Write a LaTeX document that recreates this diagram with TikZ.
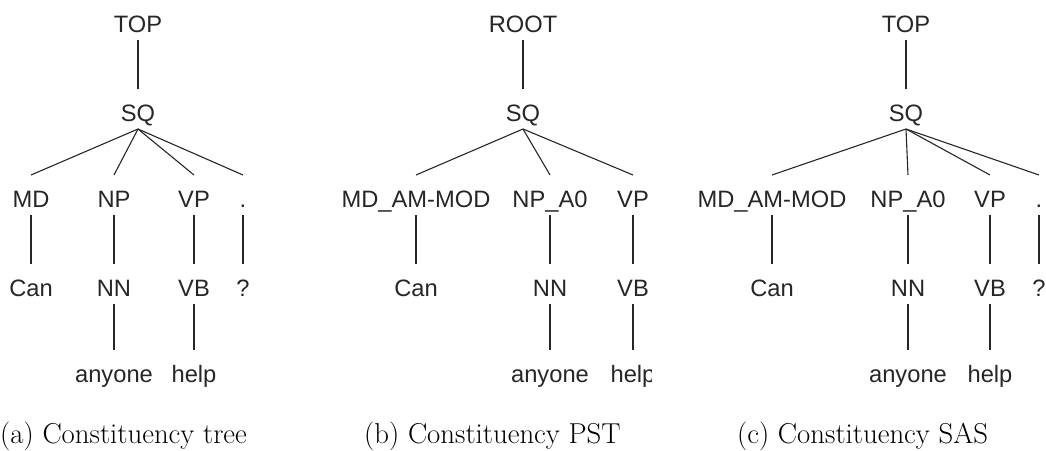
\documentclass[tikz,border=0pt]{standalone}
\usepackage{fontspec}
\newfontfamily\treefont{Liberation Sans}
\begin{document}
\begin{tikzpicture}[x=1pt,y=-1pt,
  lab/.style={anchor=base, inner sep=0pt, outer sep=0pt, text height=32pt, text depth=8pt,
    font=\treefont\fontsize{23.7}{28}\selectfont, text=black!85},
  edge/.style={draw=black!85, line width=1.1pt},
  captxt/.style={anchor=base west, inner sep=0pt, font=\fontsize{28.8}{34}\selectfont}]
\useasboundingbox (0,0) rectangle (1046,450);
% ---------- tree (a)
\node[lab] (a0) at (138,32) {TOP};
\node[lab] (a1) at (138,121) {SQ};
\node[lab] (a2) at (31,207) {MD};
\node[lab] (a3) at (114,207) {NP};
\node[lab] (a4) at (194,207) {VP};
\node[lab] (a5) at (243,207) {.};
\node[lab] (a6) at (31,296) {Can};
\node[lab] (a7) at (114,296) {NN};
\node[lab] (a8) at (194,296) {VB};
\node[lab] (a9) at (243,296) {?};
\node[lab] (a10) at (114,382) {anyone};
\node[lab] (a11) at (194,382) {help};
\draw[edge] (a0.south) -- (a1.north);
\draw[edge] (a1.south) -- (a2.north);
\draw[edge] (a1.south) -- (a3.north);
\draw[edge] (a1.south) -- (a4.north);
\draw[edge] (a1.south) -- (a5.north);
\draw[edge] (a2.south) -- (a6.north);
\draw[edge] (a3.south) -- (a7.north);
\draw[edge] (a4.south) -- (a8.north);
\draw[edge] (a5.south) -- (a9.north);
\draw[edge] (a7.south) -- (a10.north);
\draw[edge] (a8.south) -- (a11.north);
% ---------- tree (b)
\begin{scope}
\clip (300,0) rectangle (651,410);
\node[lab] (b0) at (523,32) {ROOT};
\node[lab] (b1) at (523,121) {SQ};
\node[lab] (b2) at (416,207) {MD\_AM-MOD};
\node[lab] (b3) at (550,207) {NP\_A0};
\node[lab] (b4) at (633,207) {VP};
\node[lab] (b6) at (416,296) {Can};
\node[lab] (b7) at (550,296) {NN};
\node[lab] (b8) at (633,296) {VB};
\node[lab] (b10) at (550,382) {anyone};
\node[lab] (b11) at (633,382) {help};
\draw[edge] (b0.south) -- (b1.north);
\draw[edge] (b1.south) -- (b2.north);
\draw[edge] (b1.south) -- (b3.north);
\draw[edge] (b1.south) -- (b4.north);
\draw[edge] (b2.south) -- (b6.north);
\draw[edge] (b3.south) -- (b7.north);
\draw[edge] (b4.south) -- (b8.north);
\draw[edge] (b7.south) -- (b10.north);
\draw[edge] (b8.south) -- (b11.north);
\end{scope}
% ---------- tree (c)
\node[lab] (c0) at (906,32) {TOP};
\node[lab] (c1) at (906,121) {SQ};
\node[lab] (c2) at (772,207) {MD\_AM-MOD};
\node[lab] (c3) at (908,207) {NP\_A0};
\node[lab] (c4) at (990,207) {VP};
\node[lab] (c5) at (1039,207) {.};
\node[lab] (c6) at (772,296) {Can};
\node[lab] (c7) at (908,296) {NN};
\node[lab] (c8) at (990,296) {VB};
\node[lab] (c9) at (1039,296) {?};
\node[lab] (c10) at (908,382) {anyone};
\node[lab] (c11) at (990,382) {help};
\draw[edge] (c0.south) -- (c1.north);
\draw[edge] (c1.south) -- (c2.north);
\draw[edge] (c1.south) -- (c3.north);
\draw[edge] (c1.south) -- (c4.north);
\draw[edge] (c1.south) -- (c5.north);
\draw[edge] (c2.south) -- (c6.north);
\draw[edge] (c3.south) -- (c7.north);
\draw[edge] (c4.south) -- (c8.north);
\draw[edge] (c5.south) -- (c9.north);
\draw[edge] (c7.south) -- (c10.north);
\draw[edge] (c8.south) -- (c11.north);
% ---------- captions
\node[captxt] (capa) at (0,443) {(a) Constituency tree};
\node[captxt] (capb) at (364,443) {(b) Constituency PST};
\node[captxt] (capc) at (737,443) {(c) Constituency SAS};
\end{tikzpicture}
\end{document}
